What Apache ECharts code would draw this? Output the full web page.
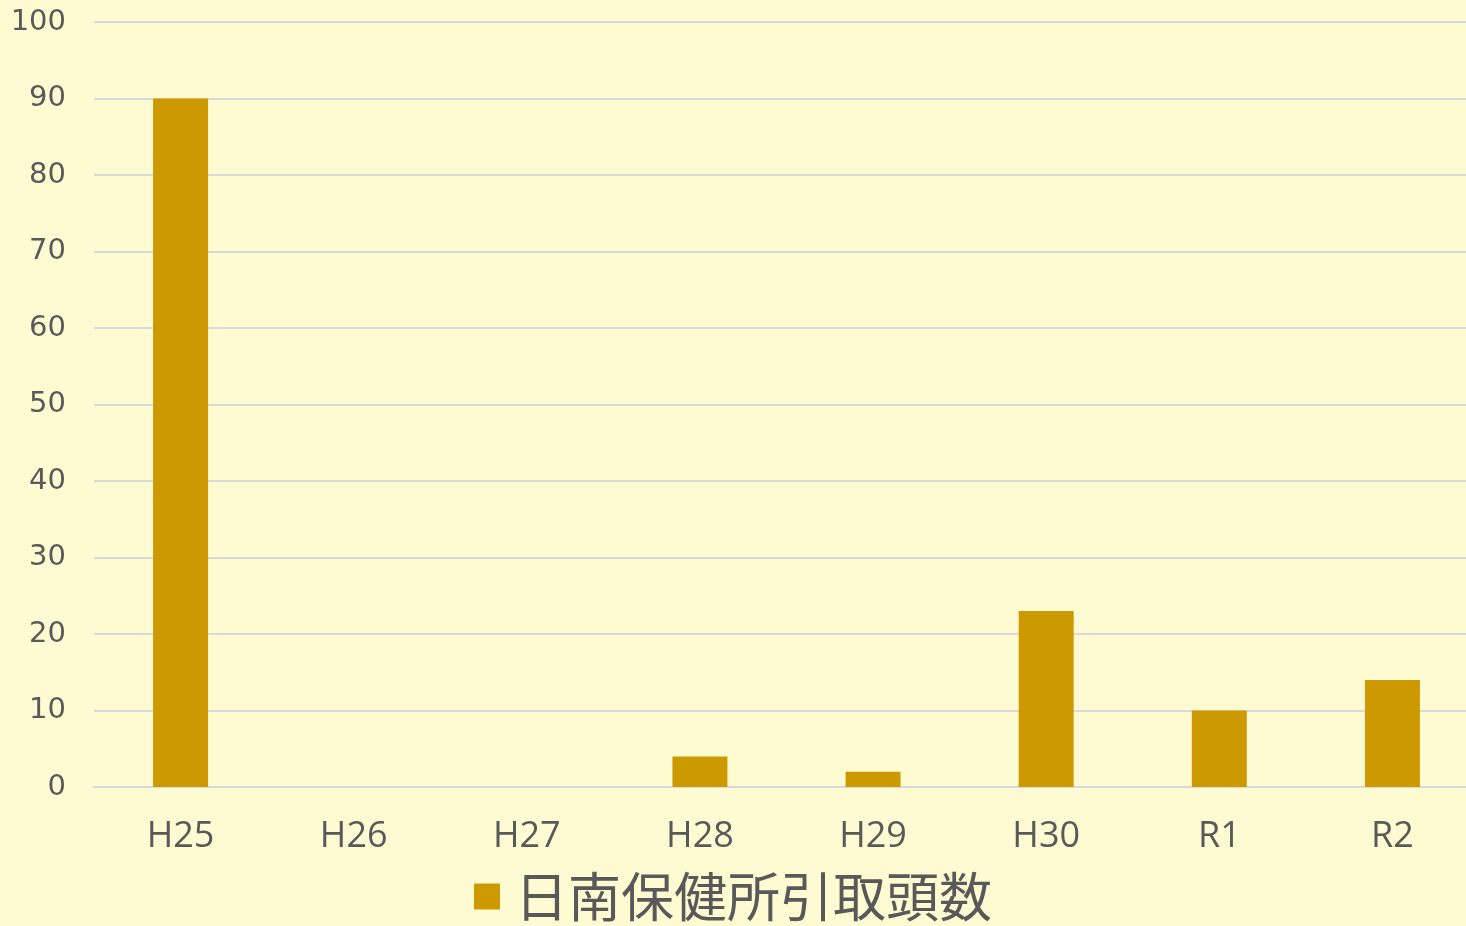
<!DOCTYPE html>
<html><head><meta charset="utf-8">
<script src="https://cdn.jsdelivr.net/npm/echarts@6/dist/echarts.min.js"></script>
<style>html,body{margin:0;padding:0;background:#FEFBD2;}#c{width:1466px;height:926px;}</style>
</head><body><div id="c"></div>
<script>
const categories = ['H25','H26','H27','H28','H29','H30','R1','R2'];
const values = [90, 0, 0, 4, 2, 23, 10, 14];
const seriesName = '日南保健所引取頭数';
const yTicks = {min: 0, max: 100, interval: 10};

const chart = echarts.init(document.getElementById('c'));
chart.setOption({
  backgroundColor: '#FEFBD2',
  animation: false,
  grid: {left: 94, width: 1385, top: 22, bottom: 139, containLabel: false, outerBoundsMode: 'none'},
  legend: {
    bottom: -2, left: 'center',
    itemWidth: 26, itemHeight: 26, itemGap: 10,
    icon: 'rect',
    textStyle: {fontSize: 53, color: '#595959', fontFamily: 'Noto Sans CJK JP', padding: [0, 0, 0, 10]},
    data: [seriesName]
  },
  xAxis: {
    type: 'category', data: categories,
    axisLine: {lineStyle: {color: '#D9D9D9', width: 2}},
    axisTick: {show: false},
    axisLabel: {fontSize: 36, color: '#595959', margin: 32, fontFamily: 'Open Sans'}
  },
  yAxis: {
    type: 'value', min: yTicks.min, max: yTicks.max, interval: yTicks.interval,
    axisLine: {show: false}, axisTick: {show: false},
    splitLine: {lineStyle: {color: '#D9D9D9', width: 2}},
    axisLabel: {fontSize: 29, color: '#595959', margin: 28, fontFamily: 'DejaVu Sans'}
  },
  series: [{
    name: seriesName, type: 'bar', data: values,
    barWidth: 55,
    itemStyle: {color: '#CC9900'}
  }]
});
</script></body></html>
